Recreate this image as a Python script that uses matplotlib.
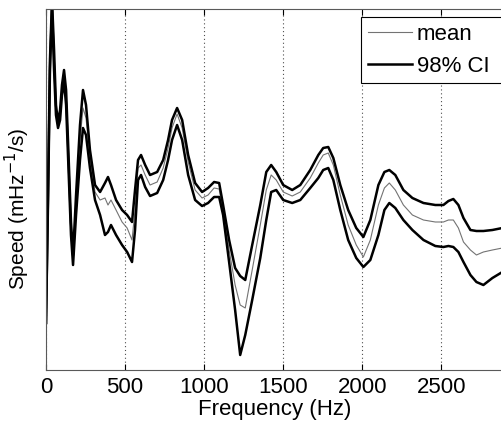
import matplotlib
matplotlib.use("Agg")
import matplotlib.pyplot as plt

plt.rcParams['font.family'] = ['Liberation Sans', 'DejaVu Sans']

# frequency axis (Hz)
freq = [0, 13, 25, 38, 51, 63, 76, 89, 101, 114, 127, 139, 158, 171, 190, 215, 234, 253, 278, 310,
        342, 373, 392, 411, 443, 481, 513, 544, 563, 582, 601, 627, 658, 703, 741, 772, 797, 829, 861, 899,
        943, 987, 1025, 1063, 1095, 1120, 1158, 1196, 1228, 1260, 1304, 1355, 1393, 1424, 1456, 1500, 1557, 1608, 1671, 1722,
        1753, 1785, 1817, 1861, 1911, 1962, 2007, 2051, 2102, 2140, 2171, 2209, 2260, 2317, 2387, 2462, 2513, 2545, 2576, 2608,
        2640, 2684, 2722, 2766, 2823, 2886]

# upper 98% CI bound
ci_upper = [0.47, 1.80, 3.10, 3.70, 3.20, 2.65, 2.48, 2.60, 2.85, 3.00, 2.80, 2.30, 1.48, 1.15, 1.75, 2.45, 2.80, 2.65, 2.20, 1.85,
            1.78, 1.87, 1.93, 1.85, 1.70, 1.60, 1.55, 1.48, 1.80, 2.10, 2.15, 2.05, 1.95, 1.98, 2.10, 2.30, 2.50, 2.62, 2.50, 2.15,
            1.87, 1.78, 1.82, 1.88, 1.87, 1.65, 1.30, 1.02, 0.94, 0.90, 1.25, 1.65, 1.98, 2.05, 1.98, 1.85, 1.80, 1.85, 2.00, 2.15,
            2.22, 2.23, 2.12, 1.85, 1.60, 1.42, 1.33, 1.50, 1.85, 1.98, 2.00, 1.95, 1.80, 1.72, 1.67, 1.65, 1.65, 1.69, 1.71, 1.65,
            1.52, 1.40, 1.39, 1.39, 1.40, 1.42]

# mean speed
speed_mean = [0.47, 1.75, 3.05, 3.65, 3.10, 2.60, 2.45, 2.55, 2.80, 2.95, 2.73, 2.22, 1.42, 1.10, 1.65, 2.30, 2.62, 2.52, 2.12, 1.78,
              1.70, 1.72, 1.65, 1.70, 1.60, 1.48, 1.42, 1.30, 1.60, 2.02, 2.05, 1.95, 1.85, 1.88, 2.02, 2.22, 2.42, 2.56, 2.42, 2.08,
              1.80, 1.72, 1.75, 1.82, 1.81, 1.58, 1.20, 0.85, 0.65, 0.62, 1.00, 1.45, 1.80, 1.95, 1.90, 1.78, 1.74, 1.78, 1.92, 2.07,
              2.15, 2.17, 2.05, 1.75, 1.45, 1.25, 1.13, 1.30, 1.65, 1.82, 1.87, 1.80, 1.65, 1.55, 1.50, 1.48, 1.48, 1.50, 1.50, 1.42,
              1.28, 1.20, 1.15, 1.18, 1.20, 1.22]

# lower 98% CI bound
ci_lower = [0.47, 1.70, 3.00, 3.60, 3.00, 2.55, 2.42, 2.50, 2.75, 2.88, 2.65, 2.15, 1.35, 1.05, 1.55, 2.10, 2.42, 2.35, 2.02, 1.70,
            1.55, 1.35, 1.38, 1.45, 1.35, 1.25, 1.18, 1.08, 1.40, 1.90, 1.95, 1.83, 1.74, 1.77, 1.90, 2.10, 2.30, 2.45, 2.30, 1.95,
            1.70, 1.64, 1.67, 1.73, 1.73, 1.55, 1.08, 0.60, 0.15, 0.35, 0.70, 1.12, 1.50, 1.78, 1.80, 1.70, 1.67, 1.70, 1.82, 1.92,
            2.00, 2.02, 1.90, 1.60, 1.30, 1.12, 1.03, 1.10, 1.35, 1.60, 1.67, 1.62, 1.50, 1.40, 1.30, 1.24, 1.23, 1.24, 1.23, 1.18,
            1.08, 0.95, 0.88, 0.85, 0.92, 0.98]

xticks = [0, 500, 1000, 1500, 2000, 2500]

fig = plt.figure(figsize=(5.01, 4.30), dpi=100)
# right spine sits just past the image edge
ax = fig.add_axes([46 / 501, 60 / 430, 457 / 501, 361 / 430])

ax.plot(freq, speed_mean, color='0.45', lw=0.8, label='mean')
ax.plot(freq, ci_upper, color='black', lw=1.8, label='98% CI')
ax.plot(freq, ci_lower, color='black', lw=1.8)

ax.set_xlim(0, 2890)
ax.set_ylim(0, 3.61)
ax.set_xticks(xticks)
ax.set_yticks([])
ax.tick_params(axis='x', direction='in', top=True, length=4, labelsize=16, pad=5, colors='black')
for s in ax.spines.values():
    s.set_color('0.35')
ax.spines['right'].set_visible(False)
ax.xaxis.grid(True, linestyle=(0, (1, 2.5)), color='0.3', lw=0.8)

ax.set_xlabel('Frequency (Hz)', fontsize=16, labelpad=1)
ax.set_ylabel('Speed (mHz$^{-1}$/s)', fontsize=15)
ax.yaxis.set_label_coords(-0.031, 0.445)

leg = ax.legend(loc='upper left', bbox_to_anchor=(361 / 501, 1 - 82 / 430, 160 / 501, 65 / 430),
                bbox_transform=fig.transFigure, mode='expand', borderaxespad=0, fancybox=False,
                framealpha=1, edgecolor='black', fontsize=16, handlelength=2.0,
                handletextpad=0.2, labelspacing=0.5, borderpad=0.3)
leg.get_frame().set_linewidth(0.8)

fig.savefig('out.png', dpi=100)
